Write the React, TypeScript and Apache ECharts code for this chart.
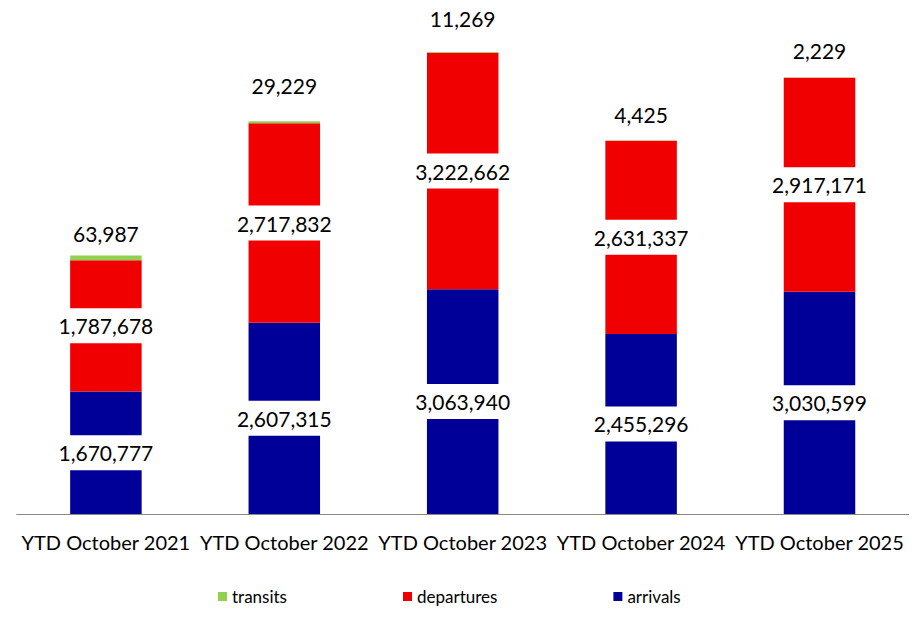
import React, { useEffect, useRef } from "react";
import * as echarts from "echarts";

const categories = [
  "YTD October 2021",
  "YTD October 2022",
  "YTD October 2023",
  "YTD October 2024",
  "YTD October 2025",
];
const arrivals = [1670777, 2607315, 3063940, 2455296, 3030599];
const departures = [1787678, 2717832, 3222662, 2631337, 2917171];
const transits = [63987, 29229, 11269, 4425, 2229];

// label layout for the small "transits" segments (distance above bar top, px)
const transitLabelDistance = [12, 25, 23, 16, 17];

const FONT = "Lato, 'Open Sans', sans-serif";
const fmt = (v: number) => v.toLocaleString("en-US");

export default function App() {
  const ref = useRef<HTMLDivElement>(null);

  useEffect(() => {
    if (!ref.current) return;
    const chart = echarts.init(ref.current, undefined, { renderer: "svg" });

    const innerLabel = {
      show: true,
      position: "inside",
      formatter: (p: any) => fmt(p.value),
      color: "#000",
      fontFamily: FONT,
      fontSize: 21,
      lineHeight: 21,
      backgroundColor: "#ffffff",
      padding: [7, 2],
    };

    chart.setOption({
      animation: false,
      backgroundColor: "#ffffff",
      grid: { left: 16.7, right: 6.3, top: 0.5, bottom: 113, containLabel: false },
      legend: {
        data: ["transits", "departures", "arrivals"],
        left: 213,
        top: 583,
        icon: "rect",
        itemWidth: 9,
        itemHeight: 9,
        itemGap: 116,
        textStyle: { fontFamily: FONT, fontSize: 17, color: "#000" },
      },
      xAxis: {
        type: "category",
        data: categories,
        axisLine: { show: true, lineStyle: { color: "#898989", width: 1 } },
        axisTick: { show: false },
        axisLabel: {
          interval: 0,
          color: "#000",
          fontFamily: FONT,
          fontSize: 20,
          margin: 18,
        },
      },
      yAxis: {
        type: "value",
        min: 0,
        max: 7000000,
        show: false,
        splitLine: { show: false },
      },
      series: [
        {
          name: "arrivals",
          type: "bar",
          stack: "total",
          barWidth: 71.5,
          itemStyle: { color: "#000099" },
          label: innerLabel,
          data: arrivals,
        },
        {
          name: "departures",
          type: "bar",
          stack: "total",
          barWidth: 71.5,
          itemStyle: { color: "#F00000" },
          label: innerLabel,
          data: departures,
        },
        {
          name: "transits",
          type: "bar",
          stack: "total",
          barWidth: 71.5,
          itemStyle: { color: "#92D050" },
          label: {
            show: true,
            position: "top",
            formatter: (p: any) => fmt(p.value),
            color: "#000",
            fontFamily: FONT,
            fontSize: 21,
            lineHeight: 21,
          },
          data: transits.map((v, i) => ({
            value: v,
            label: { distance: transitLabelDistance[i] },
          })),
        },
      ],
    });

    return () => chart.dispose();
  }, []);

  return (
    <div
      ref={ref}
      style={{ position: "fixed", left: 0, top: 0, width: 915, height: 627 }}
    />
  );
}
